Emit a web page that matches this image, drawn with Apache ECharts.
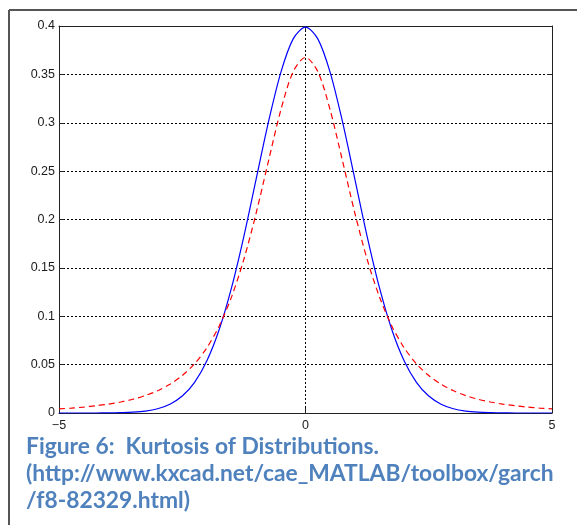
<!DOCTYPE html>
<html>
<head>
<meta charset="utf-8">
<style>
  html, body { margin: 0; padding: 0; background: #fff; }
  #chart { width: 577px; height: 525px; }
</style>
<script src="https://cdn.jsdelivr.net/npm/echarts@6/dist/echarts.min.js"></script>
</head>
<body>
<div id="chart"></div>
<script>
// Sample positions along the horizontal axis
const xs = [-5, -4.75, -4.5, -4.25, -4, -3.75, -3.5, -3.25, -3, -2.75, -2.5, -2.25, -2, -1.75, -1.5, -1.25, -1, -0.75, -0.5, -0.25,
  0, 0.25, 0.5, 0.75, 1, 1.25, 1.5, 1.75, 2, 2.25, 2.5, 2.75, 3, 3.25, 3.5, 3.75, 4, 4.25, 4.5, 4.75, 5];

// Normal density (solid blue)
const normalDensity = [0, 0, 0, 0, 0.0001, 0.0004, 0.0009, 0.0020, 0.0044, 0.0091, 0.0175, 0.0317, 0.0540, 0.0863, 0.1295, 0.1826, 0.2420, 0.3011, 0.3521, 0.3867,
  0.3989, 0.3867, 0.3521, 0.3011, 0.2420, 0.1826, 0.1295, 0.0863, 0.0540, 0.0317, 0.0175, 0.0091, 0.0044, 0.0020, 0.0009, 0.0004, 0.0001, 0, 0, 0, 0];

// Fat-tailed density (dashed red)
const fatTailDensity = [0.0042, 0.0051, 0.0061, 0.0075, 0.0092, 0.0114, 0.0142, 0.0180, 0.0230, 0.0297, 0.0387, 0.0509, 0.0675, 0.0900, 0.1200, 0.1589, 0.2068, 0.2607, 0.3132, 0.3528,
  0.3676, 0.3528, 0.3132, 0.2607, 0.2068, 0.1589, 0.1200, 0.0900, 0.0675, 0.0509, 0.0387, 0.0297, 0.0230, 0.0180, 0.0142, 0.0114, 0.0092, 0.0075, 0.0061, 0.0051, 0.0042];

const xTickLabels = { '-5': '\u22125', '0': '0', '5': '5' };
const yTickLabels = ['0', '0.05', '0.1', '0.15', '0.2', '0.25', '0.3', '0.35', '0.4'];

const captionLines = [
  'Figure 6:  Kurtosis of Distributions.',
  '(http://www.kxcad.net/cae_MATLAB/toolbox/garch',
  '/f8-82329.html)'
];

const chart = echarts.init(document.getElementById('chart'), null, { renderer: 'canvas' });

const axisFont = { fontFamily: 'Liberation Sans, Arial, sans-serif', fontSize: 12.5, color: '#1a1a1a' };
const boxLine = { show: true, onZero: false, lineStyle: { color: '#222', width: 1 } };
const gridLine = { show: true, lineStyle: { color: '#000', width: 1, type: [2, 2] } };

const pair = (arr) => xs.map((x, i) => [x, arr[i]]);

chart.setOption({
  animation: false,
  backgroundColor: '#fff',
  grid: { left: 59, right: 25, top: 26, bottom: 112, containLabel: false },
  xAxis: [
    {
      type: 'value', min: -5, max: 5, interval: 5, position: 'bottom',
      axisLine: boxLine,
      axisTick: { show: true, inside: true, length: 5, lineStyle: { color: '#222' } },
      axisLabel: Object.assign({ margin: 6, formatter: (v) => xTickLabels[String(v)] }, axisFont),
      splitLine: gridLine
    },
    {
      type: 'value', min: -5, max: 5, interval: 5, position: 'top',
      axisLine: boxLine,
      axisTick: { show: true, inside: true, length: 5, lineStyle: { color: '#222' } },
      axisLabel: { show: false },
      splitLine: { show: false }
    }
  ],
  yAxis: [
    {
      type: 'value', min: 0, max: 0.4, interval: 0.05, position: 'left',
      axisLine: boxLine,
      axisTick: { show: true, inside: true, length: 5, lineStyle: { color: '#222' } },
      axisLabel: Object.assign({ margin: 4, formatter: (v) => yTickLabels[Math.round(v / 0.05)] }, axisFont),
      splitLine: gridLine
    },
    {
      type: 'value', min: 0, max: 0.4, interval: 0.05, position: 'right',
      axisLine: boxLine,
      axisTick: { show: true, inside: true, length: 5, lineStyle: { color: '#222' } },
      axisLabel: { show: false },
      splitLine: { show: false }
    }
  ],
  series: [
    {
      name: 'Normal', type: 'line', xAxisIndex: 0, yAxisIndex: 0,
      data: pair(normalDensity), smooth: 0.3, showSymbol: false,
      lineStyle: { color: '#0000ff', width: 1.2 }, z: 3
    },
    {
      name: 'Fat tails', type: 'line', xAxisIndex: 0, yAxisIndex: 0,
      data: pair(fatTailDensity), smooth: 0.3, showSymbol: false,
      lineStyle: { color: '#ff0000', width: 1.2, type: [6, 4] }, z: 4
    }
  ],
  graphic: [
    { type: 'line', shape: { x1: 9, y1: 10, x2: 577, y2: 10 }, style: { stroke: '#555', lineWidth: 2 }, silent: true },
    { type: 'line', shape: { x1: 9, y1: 10, x2: 9, y2: 525 }, style: { stroke: '#555', lineWidth: 2 }, silent: true },
    ...captionLines.map((t, i) => ({
      type: 'text', left: 26, top: 435 + i * 27, silent: true,
      style: { text: t, fill: '#4f81bd', font: 'bold 22.8px Lato, "Open Sans", sans-serif' }
    }))
  ]
});
</script>
</body>
</html>
